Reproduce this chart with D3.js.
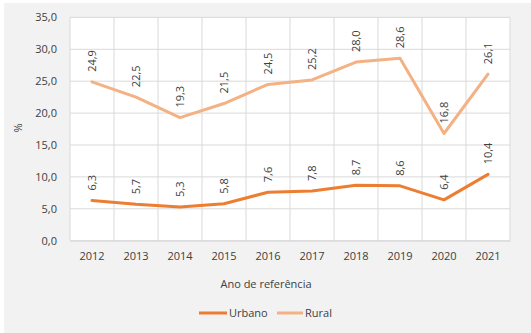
<!DOCTYPE html>
<html><head><meta charset="utf-8">
<script src="https://cdn.jsdelivr.net/npm/d3@7"></script>
<style>
html,body{margin:0;padding:0;background:#fff;}
svg{display:block;}
text{font-family:"Open Sans",sans-serif;fill:#404040;}
</style></head>
<body>
<svg id="c" width="531" height="333"></svg>
<script>
const years = ["2012","2013","2014","2015","2016","2017","2018","2019","2020","2021"];
const urbano = [6.3,5.7,5.3,5.8,7.6,7.8,8.7,8.6,6.4,10.4];
const rural = [24.9,22.5,19.3,21.5,24.5,25.2,28.0,28.6,16.8,26.1];
const yTicks = [0,5,10,15,20,25,30,35];
const seriesNames = ["Urbano","Rural"];
const colors = ["#ed7d31","#f4b183"];

const svg = d3.select("#c");
svg.append("rect").attr("x",4).attr("y",3).attr("width",527).attr("height",330).attr("fill","#f2f2f2");

const L=70,R=510,T=17.4,B=240.7;
svg.append("rect").attr("x",L).attr("y",T).attr("width",R-L).attr("height",B-T).attr("fill","#fff");

const x = d3.scaleBand().domain(years).range([L,R]);
const y = d3.scaleLinear().domain([0,35]).range([B,T]);
const fmt = v => d3.format(".1f")(v).replace(".",",");

// grid
svg.append("g").selectAll("line").data(yTicks).join("line")
  .attr("x1",L).attr("x2",R).attr("y1",d=>y(d)).attr("y2",d=>y(d))
  .attr("stroke","#d9d9d9").attr("stroke-width",1);
const bounds = years.map(d=>x(d)).concat([R]);
svg.append("g").selectAll("line").data(bounds).join("line")
  .attr("x1",d=>d).attr("x2",d=>d).attr("y1",T).attr("y2",B)
  .attr("stroke","#d9d9d9").attr("stroke-width",1);

// axes
const yAxis = svg.append("g").attr("transform",`translate(${L},0)`)
  .call(d3.axisLeft(y).tickValues(yTicks).tickFormat(fmt).tickSize(0).tickPadding(13));
yAxis.select(".domain").remove();
yAxis.selectAll("text").attr("font-size","11px").attr("fill","#404040").attr("font-family","Open Sans");

const xAxis = svg.append("g").attr("transform",`translate(0,${B})`)
  .call(d3.axisBottom(x).tickSize(0).tickPadding(12));
xAxis.select(".domain").attr("stroke","#d9d9d9");
xAxis.selectAll("text").attr("font-size","11px").attr("fill","#404040").attr("font-family","Open Sans");

// titles
svg.append("text").attr("x",266).attr("y",288).attr("text-anchor","middle").attr("font-size","11px").text("Ano de referência");
svg.append("text").attr("transform","translate(22,128) rotate(-90)").attr("text-anchor","middle").attr("font-size","11px").text("%");

// lines
const data = [urbano, rural];
const line = d3.line().x((d,i)=>x(years[i])+x.bandwidth()/2).y(d=>y(d));
[1,0].forEach(k=>{
  svg.append("path").datum(data[k]).attr("d",line).attr("fill","none")
    .attr("stroke",colors[k]).attr("stroke-width",3).attr("stroke-linejoin","round").attr("stroke-linecap","round");
});
// labels
data.forEach((arr,k)=>{
  svg.append("g").selectAll("text").data(arr).join("text")
    .attr("transform",(d,i)=>`translate(${x(years[i])+x.bandwidth()/2+4},${y(d)-10}) rotate(-90)`)
    .attr("font-size","11px").attr("text-anchor","start").text(fmt);
});

// legend
const lg = [{n:seriesNames[0],c:colors[0],x1:199,x2:227,tx:229},{n:seriesNames[1],c:colors[1],x1:277,x2:303,tx:305}];
lg.forEach(o=>{
  svg.append("line").attr("x1",o.x1).attr("x2",o.x2).attr("y1",313).attr("y2",313).attr("stroke",o.c).attr("stroke-width",3);
  svg.append("text").attr("x",o.tx).attr("y",317).attr("font-size","11px").text(o.n);
});
</script>
</body></html>
